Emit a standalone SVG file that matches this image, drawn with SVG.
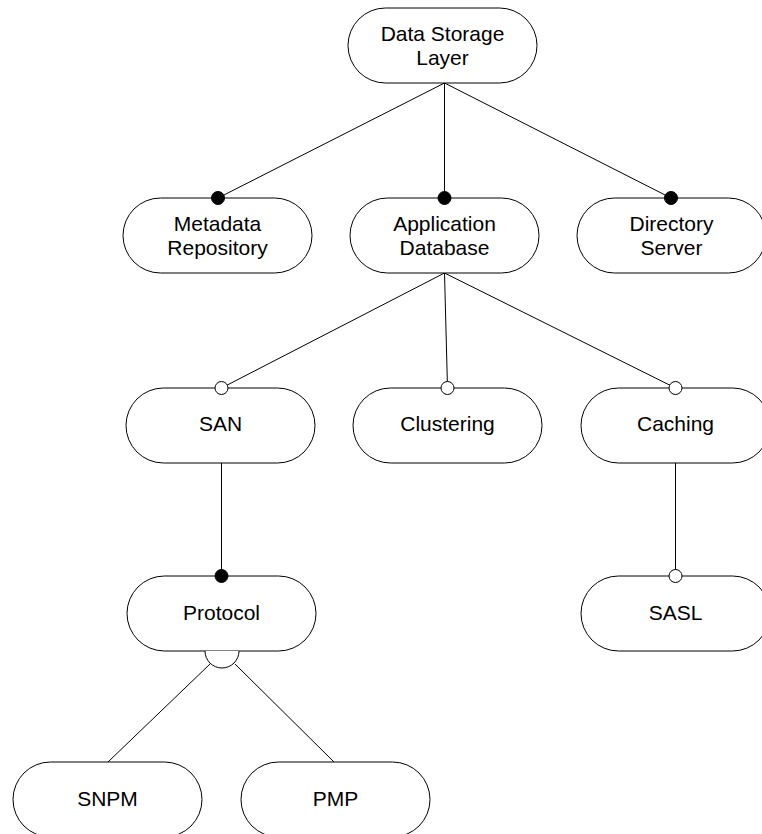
<svg xmlns="http://www.w3.org/2000/svg" width="762" height="834" viewBox="0 0 762 834">
  <style>
    .node rect { fill: #ffffff; stroke: #000000; stroke-width: 1; }
    .node text { font-family: "Liberation Sans", Arial, sans-serif; font-size: 21px; fill: #000000; text-anchor: middle; }
    .edge { stroke: #000000; stroke-width: 1; fill: none; }
    .dot { fill: #000000; stroke: #000000; stroke-width: 1; }
    .ring { fill: #ffffff; stroke: #000000; stroke-width: 1; }
  </style>
  <rect width="762" height="834" fill="#ffffff"/>

  <!-- connectors -->
  <g id="connectors">
    <line class="edge" x1="444.5" y1="83" x2="218" y2="198"/>
    <line class="edge" x1="444.5" y1="83" x2="444.5" y2="198"/>
    <line class="edge" x1="444.5" y1="83" x2="671" y2="198"/>
    <line class="edge" x1="444.5" y1="273" x2="221.5" y2="388"/>
    <line class="edge" x1="444.5" y1="273" x2="447.5" y2="388"/>
    <line class="edge" x1="444.5" y1="273" x2="675.5" y2="388"/>
    <line class="edge" x1="221.5" y1="463" x2="221.5" y2="576"/>
    <line class="edge" x1="675.5" y1="463" x2="675.5" y2="576"/>
    <line class="edge" x1="210" y1="664" x2="108" y2="762"/>
    <line class="edge" x1="235" y1="664" x2="334" y2="762"/>
  </g>

  <!-- nodes -->
  <g id="data-storage-layer" class="node">
    <rect x="348" y="8" width="189" height="75" rx="37.5"/>
    <text x="442.5" y="41">Data Storage</text>
    <text x="442.5" y="65">Layer</text>
  </g>
  <g id="metadata-repository" class="node">
    <rect x="123" y="198" width="189" height="75" rx="37.5"/>
    <text x="217.5" y="231">Metadata</text>
    <text x="217.5" y="255">Repository</text>
  </g>
  <g id="application-database" class="node">
    <rect x="350" y="198" width="189" height="75" rx="37.5"/>
    <text x="444.5" y="231">Application</text>
    <text x="444.5" y="255">Database</text>
  </g>
  <g id="directory-server" class="node">
    <rect x="577" y="198" width="189" height="75" rx="37.5"/>
    <text x="671.5" y="231">Directory</text>
    <text x="671.5" y="255">Server</text>
  </g>
  <g id="san" class="node">
    <rect x="126" y="388" width="189" height="75" rx="37.5"/>
    <text x="220.5" y="431">SAN</text>
  </g>
  <g id="clustering" class="node">
    <rect x="353" y="388" width="189" height="75" rx="37.5"/>
    <text x="447.5" y="431">Clustering</text>
  </g>
  <g id="caching" class="node">
    <rect x="581" y="388" width="189" height="75" rx="37.5"/>
    <text x="675.5" y="431">Caching</text>
  </g>
  <g id="protocol" class="node">
    <rect x="127" y="576" width="189" height="75" rx="37.5"/>
    <text x="221.5" y="620">Protocol</text>
  </g>
  <g id="sasl" class="node">
    <rect x="581" y="576" width="189" height="75" rx="37.5"/>
    <text x="675.5" y="620">SASL</text>
  </g>
  <g id="snpm" class="node">
    <rect x="13" y="762" width="189" height="75" rx="37.5"/>
    <text x="107.5" y="806">SNPM</text>
  </g>
  <g id="pmp" class="node">
    <rect x="241" y="762" width="189" height="75" rx="37.5"/>
    <text x="335.5" y="806">PMP</text>
  </g>

  <!-- connector end decorations -->
  <g id="connector-ends">
    <circle class="dot" cx="218" cy="198" r="6.5"/>
    <circle class="dot" cx="444.5" cy="198" r="6.5"/>
    <circle class="dot" cx="671" cy="198" r="6.5"/>
    <circle class="ring" cx="221.5" cy="388" r="6.5"/>
    <circle class="ring" cx="447.5" cy="388" r="6.5"/>
    <circle class="ring" cx="675.5" cy="388" r="6.5"/>
    <circle class="dot" cx="221.5" cy="576" r="6.5"/>
    <circle class="ring" cx="675.5" cy="576" r="6.5"/>
    <path class="ring" d="M205,651 A17,17 0 0 0 239,651"/>
  </g>
</svg>
